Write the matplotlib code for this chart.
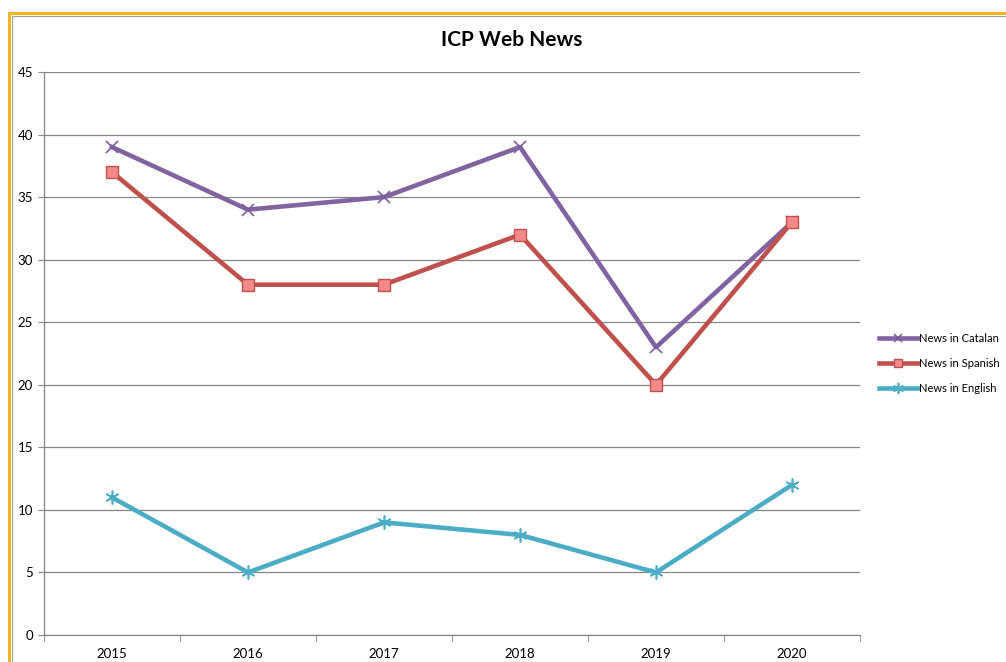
import matplotlib
matplotlib.use("Agg")
import matplotlib.pyplot as plt
from matplotlib.patches import Rectangle

years = ["2015", "2016", "2017", "2018", "2019", "2020"]
catalan = [39, 34, 35, 39, 23, 33]
spanish = [37, 28, 28, 32, 20, 33]
english = [11, 5, 9, 8, 5, 12]
y_ticks = [0, 5, 10, 15, 20, 25, 30, 35, 40, 45]

plt.rcParams['font.family'] = ['Lato', 'DejaVu Sans']

fig = plt.figure(figsize=(10.06, 6.62), dpi=100)
W, H = 1006, 662

# outer frame (orange + gray inner)
fig.patches.append(Rectangle((9 / W, -0.1), 1.2, 1 - 13 / H + 0.1, transform=fig.transFigure,
                             fill=False, edgecolor="#F5B51C", linewidth=2.2, zorder=0))
fig.patches.append(Rectangle((11.5 / W, -0.1), 1.2, 1 - 15.5 / H + 0.1, transform=fig.transFigure,
                             fill=False, edgecolor="#A0A0A0", linewidth=0.8, zorder=0))

ax = fig.add_axes([44 / W, 1 - 635 / H, (860 - 44) / W, (635 - 72) / H])
x = list(range(len(years)))

ax.plot(x, catalan, color="#8064A2", lw=3.3, marker="x", ms=8, mew=1.2,
        mec="#7A5E9E", label="News in Catalan", zorder=3)
ax.plot(x, spanish, color="#C0504D", lw=3.3, marker="s", ms=8, mfc="#F28B87",
        mec="#C0504D", mew=1.0, label="News in Spanish", zorder=3)
ax.plot(x, english, color="#4BACC6", lw=3.3, marker=(6, 2, 0), ms=10, mew=1.2,
        mec="#4BACC6", label="News in English", zorder=3)

ax.set_xlim(-0.5, 5.5)
ax.set_ylim(0, 45)
ax.set_yticks(y_ticks)
ax.set_yticklabels([str(v) for v in y_ticks], fontsize=9.5)
ax.set_xticks(x)
ax.set_xticklabels(years, fontsize=9.5)
ax.set_xticks([i - 0.5 for i in range(len(years) + 1)], minor=True)
ax.tick_params(axis="x", which="major", length=0, pad=9)
ax.tick_params(axis="x", which="minor", length=4, color="#868686", direction="out")
ax.tick_params(axis="y", length=4, color="#868686", direction="out", pad=4)

ax.yaxis.grid(True, color="#868686", linewidth=0.9)
ax.set_axisbelow(True)
for s in ["top", "right"]:
    ax.spines[s].set_visible(False)
for s in ["left", "bottom"]:
    ax.spines[s].set_color("#868686")
    ax.spines[s].set_linewidth(0.9)

fig.text(512 / W, 1 - 40 / H, "ICP Web News", ha="center", va="center",
         fontsize=15, fontweight="bold")

handles, labels = ax.get_legend_handles_labels()
fig.legend(handles, labels, loc="upper left", bbox_to_anchor=(879 / W, 1 - 333 / H),
           frameon=False, fontsize=8, handlelength=3.5, handletextpad=0.1,
           labelspacing=1.25, markerscale=0.8, borderpad=0, borderaxespad=0)

fig.savefig("out.png", dpi=100)
